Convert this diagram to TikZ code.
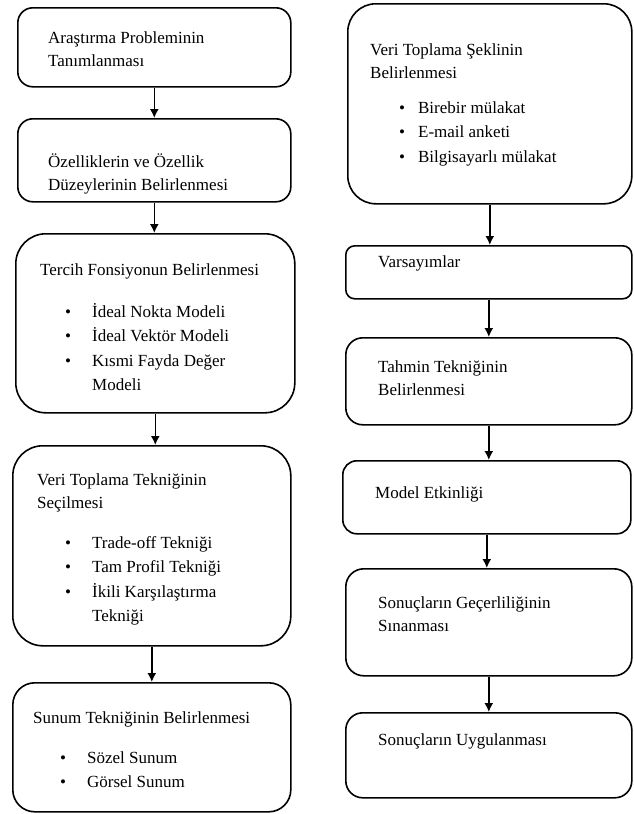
\documentclass[tikz,border=0pt]{standalone}
\usepackage{fontspec}
\setmainfont{Liberation Serif}
\usetikzlibrary{arrows.meta}

\newcommand{\lines}[1]{\begin{tabular}[t]{@{}l@{}}#1\end{tabular}}
\newcommand{\blist}[2]{{\fontsize{17}{24.5}\selectfont\begin{tabular}[t]{@{}l@{\hspace{#1}}l@{}}#2\end{tabular}}}

\tikzset{
  box/.style={draw, line width=1.6pt, anchor=north west, inner sep=0pt},
  txt/.style={anchor=base west, inner sep=0pt, font=\fontsize{17}{23}\selectfont},
  flow/.style={-{Latex[length=9pt,width=9pt]}, line width=1.6pt}
}

\begin{document}
\begin{tikzpicture}[x=1pt, y=-1pt]
\useasboundingbox (0,0) rectangle (633,814);

% left column
\node[box, rounded corners=15pt, minimum width=273pt, minimum height=79pt] (prob) at (17,7) {};
\node[txt] (probt) at (48,43) {\lines{Araştırma Probleminin\\Tanımlanması}};

\node[box, rounded corners=15pt, minimum width=273pt, minimum height=83pt] (attr) at (17,118) {};
\node[txt] (attrt) at (48,167) {\lines{Özelliklerin ve Özellik\\Düzeylerinin Belirlenmesi}};

\node[box, rounded corners=30pt, minimum width=279pt, minimum height=179pt] (pref) at (15,233) {};
\node[txt] (preft) at (40,275) {Tercih Fonsiyonun Belirlenmesi};
\node[txt] (prefl) at (65,317) {\blist{21pt}{• & İdeal Nokta Modeli\\• & İdeal Vektör Modeli\\• & Kısmi Fayda Değer\\ & Modeli}};

\node[box, rounded corners=30pt, minimum width=278pt, minimum height=200pt] (coll) at (12,445) {};
\node[txt] (collt) at (37,485) {\lines{Veri Toplama Tekniğinin\\Seçilmesi}};
\node[txt] (colll) at (65,548) {\blist{21pt}{• & Trade-off Tekniği\\• & Tam Profil Tekniği\\• & İkili Karşılaştırma\\ & Tekniği}};

\node[box, rounded corners=22pt, minimum width=278pt, minimum height=129pt] (pres) at (12,682) {};
\node[txt] (prest) at (33,723) {Sunum Tekniğinin Belirlenmesi};
\node[txt] (presl) at (60,763) {\blist{21pt}{• & Sözel Sunum\\• & Görsel Sunum}};

% right column
\node[box, rounded corners=28pt, minimum width=284pt, minimum height=200pt] (form) at (347,3) {};
\node[txt] (formt) at (370,55) {\lines{Veri Toplama Şeklinin\\Belirlenmesi}};
\node[txt] (forml) at (399,113) {\blist{13pt}{• & Birebir mülakat\\• & E-mail anketi\\• & Bilgisayarlı mülakat}};

\node[box, rounded corners=9pt, minimum width=286pt, minimum height=53pt] (assm) at (345,245) {};
\node[txt] (assmt) at (378,267) {Varsayımlar};

\node[box, rounded corners=17pt, minimum width=286pt, minimum height=87pt] (estm) at (345,337) {};
\node[txt] (estmt) at (378,372) {\lines{Tahmin Tekniğinin\\Belirlenmesi}};

\node[box, rounded corners=14pt, minimum width=288pt, minimum height=73pt] (effc) at (342,460) {};
\node[txt] (effct) at (375,498) {Model Etkinliği};

\node[box, rounded corners=18pt, minimum width=286pt, minimum height=107pt] (vald) at (345,568) {};
\node[txt] (valdt) at (378,608) {\lines{Sonuçların Geçerliliğinin\\Sınanması}};

\node[box, rounded corners=17pt, minimum width=286pt, minimum height=85pt] (appl) at (345,712) {};
\node[txt] (applt) at (378,745) {Sonuçların Uygulanması};

% arrows
\foreach \a/\b in {prob/attr, attr/pref, pref/coll, coll/pres, form/assm, assm/estm, estm/effc, effc/vald, vald/appl}
{
	\draw[flow] (\a.south) -- (\a.south |- \b.north);
}
\end{tikzpicture}
\end{document}
